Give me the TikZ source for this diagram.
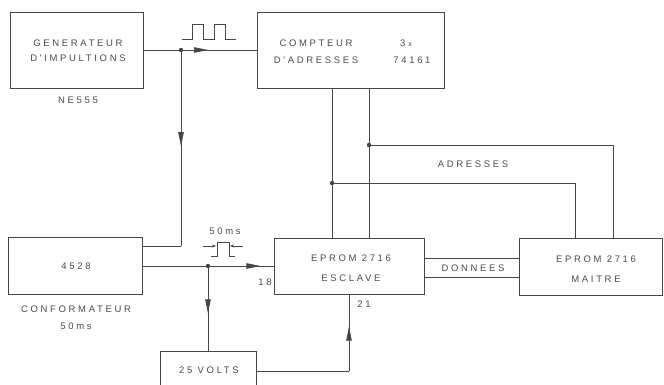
\documentclass[tikz,border=0pt]{standalone}
\usepackage{fontspec}
\newfontfamily\lab[LetterSpace=28]{Liberation Sans}
\usetikzlibrary{arrows.meta,decorations.markings,calc}
\definecolor{ink}{HTML}{464646}
\definecolor{txt}{HTML}{4A4A4A}
\begin{document}
\begin{tikzpicture}[x=1pt,y=-1pt,
 box/.style={draw=ink,line width=0.9pt,inner sep=0pt},
 lbl/.style={text=txt,font=\lab\fontsize{9.5}{15}\selectfont,inner sep=0pt,align=center},
 wire/.style={draw=ink,line width=0.8pt},
 arrowat/.style={postaction={decorate},decoration={markings,mark=at position #1 with {\arrow{Triangle[length=14pt,width=5.5pt]}}}},
 small/.style={-{Stealth[length=4pt,width=3pt]}}]
\useasboundingbox (0,0) rectangle (664,385);
% boxes
\node[box,minimum width=133pt,minimum height=76pt] (gen) at (76.5,50) {};
\node[box,minimum width=187pt,minimum height=76pt] (comp) at (350.5,50) {};
\node[box,minimum width=134pt,minimum height=57pt] (conf) at (75,265.5) {};
\node[box,minimum width=150pt,minimum height=56pt] (escl) at (349,266) {};
\node[box,minimum width=143pt,minimum height=57pt] (mait) at (590.5,266.5) {};
\node[box,minimum width=96pt,minimum height=40pt] (volt) at (208,371) {};
% texts
\node[lbl] (gent) at (78,51) {GENERATEUR\\D'IMPULTIONS};
\node[lbl] (ne) at (78,100) {NE555};
\node[lbl,font=\lab\fontsize{9.5}{17}\selectfont] (compt) at (316,51.5) {COMPTEUR\\D'ADRESSES};
\node[lbl] (comp3) at (406,43) {3\,\,{\fontsize{7}{7}\selectfont x}};
\node[lbl] (compn) at (412,60) {74161};
\node[lbl] (conft) at (76,266) {4528};
\node[lbl,font=\lab\fontsize{9.5}{17}\selectfont] (confl) at (76,317.5) {CONFORMATEUR\\50ms};
\node[lbl,font=\lab\fontsize{9.5}{20}\selectfont] (esclt) at (351,268) {EPROM 2716\\ESCLAVE};
\node[lbl,font=\lab\fontsize{9.5}{20}\selectfont] (maitt) at (596,269) {EPROM 2716\\MAITRE};
\node[lbl] (voltt) at (209,370) {25 VOLTS};
\node[lbl] (adr) at (473,164) {ADRESSES};
\node[lbl] (don) at (473,268) {DONNEES};
\node[lbl] (p18) at (265,282) {18};
\node[lbl] (p21) at (364,304) {21};
\node[lbl] (ms) at (225,231) {50ms};
% junctions
\coordinate (J1) at (181,50);
\coordinate (B1) at (181,246);
\coordinate (J2) at (208,266);
\coordinate (B2) at (349,371);
\coordinate (J3) at (369,145);
\coordinate (K3) at (613,145);
\coordinate (J4) at (332,183);
\coordinate (K4) at (575,183);
\coordinate (D1) at (472,258);
\coordinate (D2) at (472,277);
% wires
\draw[wire,arrowat=0.57] (gen.east) -- (comp.west);
\draw[wire,arrowat=0.49] (J1) -- (B1);
\draw[wire] (B1) -- (B1 -| conf.east);
\draw[wire,arrowat=0.9] (conf.east |- J2) -- (escl.west |- J2);
\draw[wire,arrowat=0.56] (J2) -- (volt.north);
\draw[wire] (volt.east) -- (B2);
\draw[wire,arrowat=0.58] (B2) -- (escl.south);
\draw[wire] (comp.south -| J4) -- (escl.north -| J4);
\draw[wire] (comp.south -| J3) -- (escl.north -| J3);
\draw[wire] (J3) -- (K3) -- (K3 |- mait.north);
\draw[wire] (J4) -- (K4) -- (K4 |- mait.north);
\draw[wire] (escl.east |- D1) -- (mait.west |- D1);
\draw[wire] (escl.east |- D2) -- (mait.west |- D2);
\foreach \p in {J1,J2,J3,J4} \fill[ink] (\p) circle (2.2pt);
% pulse trains
\draw[wire,line width=0.7pt] (182,39) -- (192,39) -- (192,24.5) -- (203,24.5) -- (203,39) -- (214,39) -- (214,24.5) -- (225,24.5) -- (225,39) -- (236,39);
\draw[wire,line width=0.7pt] (211,256) -- (217,256) -- (217,242) -- (229,242) -- (229,256) -- (235,256);
\draw[wire,line width=0.6pt,small] (203,246) -- (216,246);
\draw[wire,line width=0.6pt,small] (243,246) -- (230,246);
\end{tikzpicture}
\end{document}
